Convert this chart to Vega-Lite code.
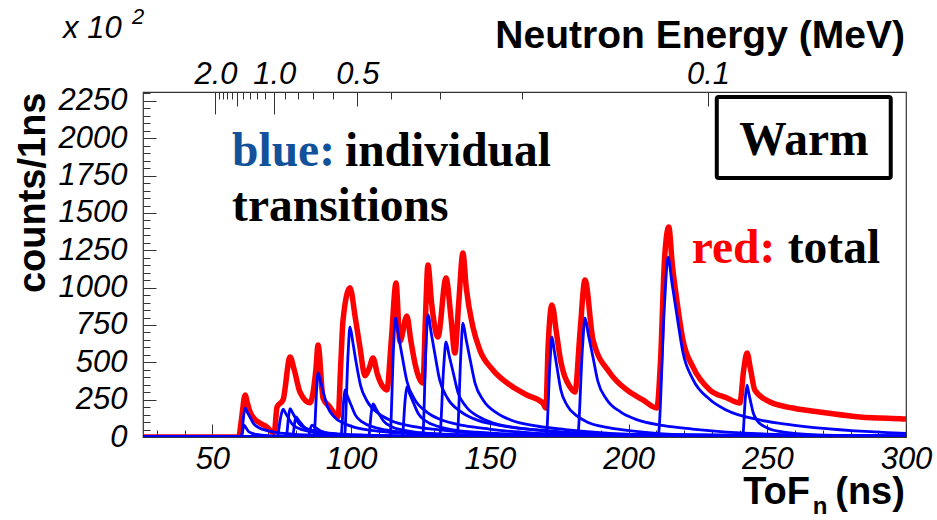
{
"$schema": "https://vega.github.io/schema/vega-lite/v6.json",
"width": 763, "height": 345,
"autosize": "none",
"padding": {"left": 143, "top": 92, "right": 31, "bottom": 83},
"background": "white",
"config": {
  "view": {"stroke": "#333", "strokeWidth": 1.2},
  "axis": {"domain": false, "grid": false, "labelFont": "Liberation Sans", "labelFontStyle": "italic", "labelFontSize": 31, "labelColor": "#000", "tickColor": "#333", "tickWidth": 1, "labelOverlap": false, "labelFlush": false, "titleColor": "#000"}
},
"datasets": {
"red": [
{"t":25,"v":0},{"t":59.5,"v":0},{"t":60.5,"v":120},{"t":61.8,"v":281},{"t":62.6,"v":230},{"t":63.6,"v":167},{"t":64.6,"v":134},{"t":67,"v":95},{"t":69.7,"v":67},{"t":71.5,"v":33},{"t":72.3,"v":30},{"t":73.3,"v":200},{"t":75.5,"v":250},{"t":78,"v":536},{"t":79.5,"v":450},{"t":81.6,"v":300},{"t":85.2,"v":230},{"t":87.3,"v":450},{"t":88.1,"v":616},{"t":89.9,"v":260},{"t":92.4,"v":200},{"t":95.3,"v":135},{"t":96.3,"v":500},{"t":97.1,"v":783},{"t":99.6,"v":1000},{"t":101.5,"v":800},{"t":103.2,"v":600},{"t":105,"v":410},{"t":106.5,"v":460},{"t":107.9,"v":529},{"t":109.5,"v":420},{"t":111.5,"v":335},{"t":112.9,"v":315},{"t":114.5,"v":650},{"t":116.2,"v":1031},{"t":117.6,"v":640},{"t":120.1,"v":810},{"t":121.5,"v":650},{"t":123,"v":495},{"t":125.9,"v":362},{"t":126.8,"v":800},{"t":127.7,"v":1152},{"t":129,"v":900},{"t":131.3,"v":670},{"t":134.2,"v":1065},{"t":136,"v":800},{"t":137.4,"v":562},{"t":138.8,"v":900},{"t":140.3,"v":1232},{"t":141.5,"v":1000},{"t":143.9,"v":737},{"t":146.4,"v":583},{"t":151.1,"v":449},{"t":157.3,"v":348},{"t":163.4,"v":281},{"t":169.1,"v":228},{"t":170.2,"v":194},{"t":171,"v":600},{"t":172.4,"v":884},{"t":174,"v":700},{"t":175.3,"v":536},{"t":178.9,"v":335},{"t":180.7,"v":301},{"t":182.5,"v":700},{"t":184.3,"v":1051},{"t":187.2,"v":650},{"t":193.3,"v":429},{"t":199.4,"v":315},{"t":205.2,"v":248},{"t":210.2,"v":194},{"t":211.5,"v":500},{"t":213,"v":1200},{"t":214.5,"v":1406},{"t":215.8,"v":1150},{"t":217.4,"v":917},{"t":219.6,"v":650},{"t":223.2,"v":469},{"t":229.3,"v":315},{"t":235.5,"v":261},{"t":240.1,"v":228},{"t":241.5,"v":450},{"t":242.7,"v":562},{"t":244,"v":450},{"t":245.5,"v":315},{"t":251,"v":234},{"t":259.2,"v":194},{"t":271.5,"v":161},{"t":283.4,"v":134},{"t":298.9,"v":121},{"t":300,"v":120}
],
"blue": [
{"s":1,"t":25,"v":0},{"s":1,"t":60.4,"v":0},{"s":1,"t":61.3,"v":146},{"s":1,"t":61.8,"v":194},{"s":1,"t":62.6,"v":165},{"s":1,"t":63.6,"v":132},{"s":1,"t":64.8,"v":91},{"s":1,"t":66.8,"v":62},{"s":1,"t":70.1,"v":41},{"s":1,"t":73.4,"v":29},{"s":1,"t":80,"v":18},{"s":1,"t":86.6,"v":13},{"s":1,"t":108.6,"v":4},{"s":1,"t":300,"v":1},
{"s":2,"t":25,"v":0},{"s":2,"t":60.5,"v":0},{"s":2,"t":61.1,"v":60},{"s":2,"t":61.4,"v":80},{"s":2,"t":61.9,"v":68},{"s":2,"t":62.4,"v":54},{"s":2,"t":63,"v":38},{"s":2,"t":64.1,"v":26},{"s":2,"t":65.9,"v":17},{"s":2,"t":67.7,"v":12},{"s":2,"t":71.3,"v":8},{"s":2,"t":74.9,"v":5},{"s":2,"t":86.9,"v":2},{"s":2,"t":300,"v":0},
{"s":3,"t":25,"v":0},{"s":3,"t":73.3,"v":0},{"s":3,"t":74.7,"v":140},{"s":3,"t":75.5,"v":187},{"s":3,"t":76.4,"v":159},{"s":3,"t":77.4,"v":127},{"s":3,"t":78.7,"v":88},{"s":3,"t":80.8,"v":60},{"s":3,"t":84.4,"v":39},{"s":3,"t":87.9,"v":28},{"s":3,"t":95,"v":18},{"s":3,"t":102.1,"v":12},{"s":3,"t":125.7,"v":4},{"s":3,"t":300,"v":1},
{"s":4,"t":25,"v":0},{"s":4,"t":76.6,"v":0},{"s":4,"t":77.5,"v":142},{"s":4,"t":78,"v":190},{"s":4,"t":78.9,"v":162},{"s":4,"t":79.9,"v":129},{"s":4,"t":81.2,"v":89},{"s":4,"t":83.4,"v":61},{"s":4,"t":87,"v":40},{"s":4,"t":90.6,"v":29},{"s":4,"t":97.8,"v":18},{"s":4,"t":105,"v":13},{"s":4,"t":129,"v":4},{"s":4,"t":300,"v":1},
{"s":5,"t":25,"v":0},{"s":5,"t":78.9,"v":0},{"s":5,"t":79.7,"v":100},{"s":5,"t":80.1,"v":134},{"s":5,"t":81,"v":114},{"s":5,"t":82,"v":91},{"s":5,"t":83.3,"v":63},{"s":5,"t":85.5,"v":43},{"s":5,"t":89.1,"v":28},{"s":5,"t":92.7,"v":20},{"s":5,"t":99.9,"v":13},{"s":5,"t":107.1,"v":9},{"s":5,"t":131.1,"v":3},{"s":5,"t":300,"v":1},
{"s":6,"t":25,"v":0},{"s":6,"t":84.6,"v":0},{"s":6,"t":85.4,"v":60},{"s":6,"t":85.9,"v":80},{"s":6,"t":86.8,"v":68},{"s":6,"t":87.9,"v":54},{"s":6,"t":89.3,"v":38},{"s":6,"t":91.5,"v":26},{"s":6,"t":95.2,"v":17},{"s":6,"t":98.9,"v":12},{"s":6,"t":106.4,"v":8},{"s":6,"t":113.8,"v":5},{"s":6,"t":138.6,"v":2},{"s":6,"t":300,"v":0},
{"s":7,"t":25,"v":0},{"s":7,"t":86.6,"v":0},{"s":7,"t":87.6,"v":322},{"s":7,"t":88.1,"v":429},{"s":7,"t":89.1,"v":365},{"s":7,"t":90.1,"v":292},{"s":7,"t":91.5,"v":202},{"s":7,"t":93.8,"v":137},{"s":7,"t":97.6,"v":90},{"s":7,"t":101.3,"v":64},{"s":7,"t":108.9,"v":41},{"s":7,"t":116.5,"v":28},{"s":7,"t":141.7,"v":9},{"s":7,"t":300,"v":3},
{"s":8,"t":25,"v":0},{"s":8,"t":96.3,"v":0},{"s":8,"t":97.3,"v":236},{"s":8,"t":97.8,"v":315},{"s":8,"t":98.8,"v":268},{"s":8,"t":100,"v":214},{"s":8,"t":101.5,"v":148},{"s":8,"t":104,"v":101},{"s":8,"t":108.2,"v":66},{"s":8,"t":112.3,"v":47},{"s":8,"t":120.6,"v":30},{"s":8,"t":128.9,"v":21},{"s":8,"t":156.5,"v":6},{"s":8,"t":300,"v":2},
{"s":9,"t":25,"v":0},{"s":9,"t":97.6,"v":0},{"s":9,"t":98.9,"v":553},{"s":9,"t":99.6,"v":737},{"s":9,"t":100.7,"v":626},{"s":9,"t":101.8,"v":501},{"s":9,"t":103.4,"v":346},{"s":9,"t":105.9,"v":236},{"s":9,"t":110.1,"v":155},{"s":9,"t":114.3,"v":111},{"s":9,"t":122.7,"v":70},{"s":9,"t":131.1,"v":49},{"s":9,"t":159.1,"v":15},{"s":9,"t":300,"v":5},
{"s":10,"t":25,"v":0},{"s":10,"t":106.3,"v":0},{"s":10,"t":107.3,"v":166},{"s":10,"t":107.9,"v":221},{"s":10,"t":109,"v":188},{"s":10,"t":110.2,"v":150},{"s":10,"t":111.8,"v":104},{"s":10,"t":114.4,"v":71},{"s":10,"t":118.7,"v":46},{"s":10,"t":123,"v":33},{"s":10,"t":131.7,"v":21},{"s":10,"t":140.3,"v":15},{"s":10,"t":169.1,"v":4},{"s":10,"t":300,"v":1},
{"s":11,"t":25,"v":0},{"s":11,"t":114,"v":0},{"s":11,"t":115.3,"v":598},{"s":11,"t":116,"v":797},{"s":11,"t":117.1,"v":677},{"s":11,"t":118.4,"v":542},{"s":11,"t":120.1,"v":375},{"s":11,"t":122.8,"v":255},{"s":11,"t":127.3,"v":167},{"s":11,"t":131.8,"v":120},{"s":11,"t":140.8,"v":76},{"s":11,"t":149.8,"v":53},{"s":11,"t":179.8,"v":16},{"s":11,"t":300,"v":5},
{"s":12,"t":25,"v":0},{"s":12,"t":118.4,"v":0},{"s":12,"t":119.5,"v":251},{"s":12,"t":120.1,"v":335},{"s":12,"t":121.2,"v":285},{"s":12,"t":122.5,"v":228},{"s":12,"t":124.2,"v":157},{"s":12,"t":126.9,"v":107},{"s":12,"t":131.5,"v":70},{"s":12,"t":136.1,"v":50},{"s":12,"t":145.2,"v":32},{"s":12,"t":154.3,"v":22},{"s":12,"t":184.7,"v":7},{"s":12,"t":300,"v":2},
{"s":13,"t":25,"v":0},{"s":13,"t":125.8,"v":0},{"s":13,"t":127,"v":613},{"s":13,"t":127.7,"v":817},{"s":13,"t":128.9,"v":694},{"s":13,"t":130.2,"v":556},{"s":13,"t":131.9,"v":384},{"s":13,"t":134.7,"v":261},{"s":13,"t":139.4,"v":172},{"s":13,"t":144.1,"v":123},{"s":13,"t":153.4,"v":78},{"s":13,"t":162.8,"v":54},{"s":13,"t":194,"v":16},{"s":13,"t":300,"v":5},
{"s":14,"t":25,"v":0},{"s":14,"t":131.9,"v":0},{"s":14,"t":133.4,"v":477},{"s":14,"t":134.2,"v":636},{"s":14,"t":135.4,"v":541},{"s":14,"t":136.8,"v":432},{"s":14,"t":138.5,"v":299},{"s":14,"t":141.4,"v":204},{"s":14,"t":146.2,"v":134},{"s":14,"t":151,"v":95},{"s":14,"t":160.6,"v":60},{"s":14,"t":170.2,"v":42},{"s":14,"t":202.2,"v":13},{"s":14,"t":300,"v":4},
{"s":15,"t":25,"v":0},{"s":15,"t":138.2,"v":0},{"s":15,"t":139.6,"v":572},{"s":15,"t":140.3,"v":763},{"s":15,"t":141.5,"v":649},{"s":15,"t":142.9,"v":519},{"s":15,"t":144.7,"v":359},{"s":15,"t":147.7,"v":244},{"s":15,"t":152.6,"v":160},{"s":15,"t":157.5,"v":114},{"s":15,"t":167.4,"v":72},{"s":15,"t":177.2,"v":50},{"s":15,"t":210,"v":15},{"s":15,"t":300,"v":5},
{"s":16,"t":25,"v":0},{"s":16,"t":170.3,"v":0},{"s":16,"t":171.7,"v":502},{"s":16,"t":172.4,"v":670},{"s":16,"t":173.3,"v":570},{"s":16,"t":174.3,"v":456},{"s":16,"t":175.6,"v":315},{"s":16,"t":177.8,"v":214},{"s":16,"t":181.4,"v":141},{"s":16,"t":185,"v":101},{"s":16,"t":192.2,"v":64},{"s":16,"t":199.4,"v":44},{"s":16,"t":223.4,"v":13},{"s":16,"t":300,"v":3},
{"s":17,"t":25,"v":0},{"s":17,"t":181.6,"v":0},{"s":17,"t":183.4,"v":598},{"s":17,"t":184.3,"v":797},{"s":17,"t":185.6,"v":677},{"s":17,"t":187.1,"v":542},{"s":17,"t":188.9,"v":375},{"s":17,"t":192,"v":255},{"s":17,"t":197.2,"v":167},{"s":17,"t":202.4,"v":120},{"s":17,"t":212.7,"v":76},{"s":17,"t":223,"v":53},{"s":17,"t":257.4,"v":16},{"s":17,"t":300,"v":8},
{"s":18,"t":25,"v":0},{"s":18,"t":210.6,"v":0},{"s":18,"t":213,"v":904},{"s":18,"t":214.2,"v":1205},{"s":18,"t":215.7,"v":1024},{"s":18,"t":217.4,"v":819},{"s":18,"t":219.6,"v":566},{"s":18,"t":223.2,"v":386},{"s":18,"t":229.2,"v":253},{"s":18,"t":235.2,"v":181},{"s":18,"t":247.2,"v":114},{"s":18,"t":259.2,"v":80},{"s":18,"t":300,"v":24},
{"s":19,"t":25,"v":0},{"s":19,"t":241.1,"v":0},{"s":19,"t":242.1,"v":261},{"s":19,"t":242.7,"v":348},{"s":19,"t":243.3,"v":296},{"s":19,"t":244,"v":237},{"s":19,"t":244.9,"v":164},{"s":19,"t":246.3,"v":111},{"s":19,"t":248.7,"v":73},{"s":19,"t":251.1,"v":52},{"s":19,"t":255.9,"v":33},{"s":19,"t":260.7,"v":23},{"s":19,"t":276.7,"v":7},{"s":19,"t":300,"v":3}
]
},
"layer": [
  {
    "encoding": {
      "x": {"field": "t", "type": "quantitative", "scale": {"domain": [25, 300], "nice": false, "zero": false},
        "axis": {"orient": "bottom", "title": null, "values": [30,40,50,60,70,80,90,100,110,120,130,140,150,160,170,180,190,200,210,220,230,240,250,260,270,280,290,300], "format": "d", "labelExpr": "datum.value % 50 === 0 ? datum.label : ''", "tickSize": {"condition": {"test": "datum.value % 50 === 0", "value": -13}, "value": -7}, "labelPadding": 44, "labelBaseline": "alphabetic"}},
      "y": {"field": "v", "type": "quantitative", "scale": {"domain": [0, 2310], "nice": false, "zero": false},
        "axis": {"orient": "left", "title": "counts/1ns", "values": [0,50,100,150,200,250,300,350,400,450,500,550,600,650,700,750,800,850,900,950,1000,1050,1100,1150,1200,1250,1300,1350,1400,1450,1500,1550,1600,1650,1700,1750,1800,1850,1900,1950,2000,2050,2100,2150,2200,2250,2300], "format": "d", "labelExpr": "datum.value % 250 === 0 ? datum.label : ''", "tickSize": {"condition": {"test": "datum.value % 250 === 0", "value": -13}, "value": -7}, "labelPadding": 29, "titleFont": "Liberation Sans", "titleFontWeight": "bold", "titleFontSize": 38, "titleAngle": -90, "titleAlign": "right", "titleBaseline": "alphabetic", "titleX": -99, "titleY": 0}}
    },
    "layer": [
      {"data": {"name": "red"}, "mark": {"type": "line", "color": "#ff0000", "strokeWidth": 5.5, "interpolate": "monotone", "clip": true}},
      {"data": {"name": "blue"}, "mark": {"type": "line", "color": "#0000ff", "strokeWidth": 2.8, "interpolate": "monotone", "clip": true}, "encoding": {"detail": {"field": "s", "type": "nominal"}}}
    ]
  },
  {
    "data": {"values": [{}]},
    "mark": {"type": "rect", "fill": "white", "stroke": "black", "strokeWidth": 4, "cornerRadius": 2},
    "encoding": {
      "x": {"datum": 231.8, "type": "quantitative", "scale": {"domain": [25, 300], "nice": false, "zero": false},
        "axis": {"orient": "top", "title": null, "values": [51.12,52.45,53.89,55.45,57.16,59.03,61.1,63.41,66,68.94,72.3,76.21,80.83,86.42,93.34,102.25,114.32,132,161.67,228.63],
          "labelExpr": "datum.value === 51.12 ? '2.0' : datum.value === 72.3 ? '1.0' : datum.value === 102.25 ? '0.5' : datum.value === 228.63 ? '0.1' : ''",
          "tickSize": {"condition": [{"test": "datum.value === 51.12 || datum.value === 72.3", "value": -22}, {"test": "datum.value === 59.03 || datum.value === 102.25 || datum.value === 228.63", "value": -14}], "value": -7},
          "labelPadding": {"condition": {"test": "datum.value === 51.12 || datum.value === 72.3", "value": 31}, "value": 23},
          "labelBaseline": "alphabetic"}},
      "x2": {"datum": 294.5},
      "y": {"datum": 1734, "type": "quantitative", "scale": {"domain": [0, 2310], "nice": false, "zero": false}, "axis": null},
      "y2": {"datum": 2277}
    }
  },
  {"data": {"values": [{}]}, "mark": {"type": "text", "font": "Liberation Serif", "fontWeight": "bold", "fontSize": 47.5, "align": "center", "baseline": "alphabetic", "color": "#000"},
   "encoding": {"x": {"datum": 263.2, "type": "quantitative", "axis": null}, "y": {"datum": 1888, "type": "quantitative", "axis": null}, "text": {"value": "Warm"}}},
  {"data": {"values": [{}]}, "mark": {"type": "text", "font": "Liberation Serif", "fontWeight": "bold", "fontSize": 47.5, "align": "left", "baseline": "alphabetic", "color": "#12529a"},
   "encoding": {"x": {"datum": 57.1, "type": "quantitative", "axis": null}, "y": {"datum": 1815, "type": "quantitative", "axis": null}, "text": {"value": "blue:"}}},
  {"data": {"values": [{}]}, "mark": {"type": "text", "font": "Liberation Serif", "fontWeight": "bold", "fontSize": 47.5, "align": "left", "baseline": "alphabetic", "color": "#000"},
   "encoding": {"x": {"datum": 97.8, "type": "quantitative", "axis": null}, "y": {"datum": 1815, "type": "quantitative", "axis": null}, "text": {"value": "individual"}}},
  {"data": {"values": [{}]}, "mark": {"type": "text", "font": "Liberation Serif", "fontWeight": "bold", "fontSize": 47.5, "align": "left", "baseline": "alphabetic", "color": "#000"},
   "encoding": {"x": {"datum": 57.1, "type": "quantitative", "axis": null}, "y": {"datum": 1446, "type": "quantitative", "axis": null}, "text": {"value": "transitions"}}},
  {"data": {"values": [{}]}, "mark": {"type": "text", "font": "Liberation Serif", "fontWeight": "bold", "fontSize": 47.5, "align": "left", "baseline": "alphabetic", "color": "#ff0000"},
   "encoding": {"x": {"datum": 222.8, "type": "quantitative", "axis": null}, "y": {"datum": 1165, "type": "quantitative", "axis": null}, "text": {"value": "red:"}}},
  {"data": {"values": [{}]}, "mark": {"type": "text", "font": "Liberation Serif", "fontWeight": "bold", "fontSize": 47.5, "align": "left", "baseline": "alphabetic", "color": "#000"},
   "encoding": {"x": {"datum": 257.4, "type": "quantitative", "axis": null}, "y": {"datum": 1165, "type": "quantitative", "axis": null}, "text": {"value": "total"}}},
  {"data": {"values": [{}]}, "mark": {"type": "text", "font": "Liberation Sans", "fontStyle": "italic", "fontSize": 31, "align": "left", "baseline": "alphabetic", "color": "#000"},
   "encoding": {"x": {"datum": -3.8, "type": "quantitative", "axis": null}, "y": {"datum": 2672, "type": "quantitative", "axis": null}, "text": {"value": "x 10"}}},
  {"data": {"values": [{}]}, "mark": {"type": "text", "font": "Liberation Sans", "fontStyle": "italic", "fontSize": 22, "align": "left", "baseline": "alphabetic", "color": "#000"},
   "encoding": {"x": {"datum": 21, "type": "quantitative", "axis": null}, "y": {"datum": 2765, "type": "quantitative", "axis": null}, "text": {"value": "2"}}},
  {"data": {"values": [{}]}, "mark": {"type": "text", "font": "Liberation Sans", "fontWeight": "bold", "fontSize": 39, "align": "right", "baseline": "alphabetic", "color": "#000"},
   "encoding": {"x": {"datum": 299.6, "type": "quantitative", "axis": null}, "y": {"datum": 2605, "type": "quantitative", "axis": null}, "text": {"value": "Neutron Energy (MeV)"}}},
  {"data": {"values": [{}]}, "mark": {"type": "text", "font": "Liberation Sans", "fontWeight": "bold", "fontSize": 38, "align": "right", "baseline": "alphabetic", "color": "#000"},
   "encoding": {"x": {"datum": 265.4, "type": "quantitative", "axis": null}, "y": {"datum": -449, "type": "quantitative", "axis": null}, "text": {"value": "ToF"}}},
  {"data": {"values": [{}]}, "mark": {"type": "text", "font": "Liberation Sans", "fontWeight": "bold", "fontSize": 24, "align": "left", "baseline": "alphabetic", "color": "#000"},
   "encoding": {"x": {"datum": 266.4, "type": "quantitative", "axis": null}, "y": {"datum": -516, "type": "quantitative", "axis": null}, "text": {"value": "n"}}},
  {"data": {"values": [{}]}, "mark": {"type": "text", "font": "Liberation Sans", "fontWeight": "bold", "fontSize": 38, "align": "right", "baseline": "alphabetic", "color": "#000"},
   "encoding": {"x": {"datum": 299.6, "type": "quantitative", "axis": null}, "y": {"datum": -449, "type": "quantitative", "axis": null}, "text": {"value": "(ns)"}}}
],
"resolve": {"axis": {"x": "independent", "y": "independent"}}
}
